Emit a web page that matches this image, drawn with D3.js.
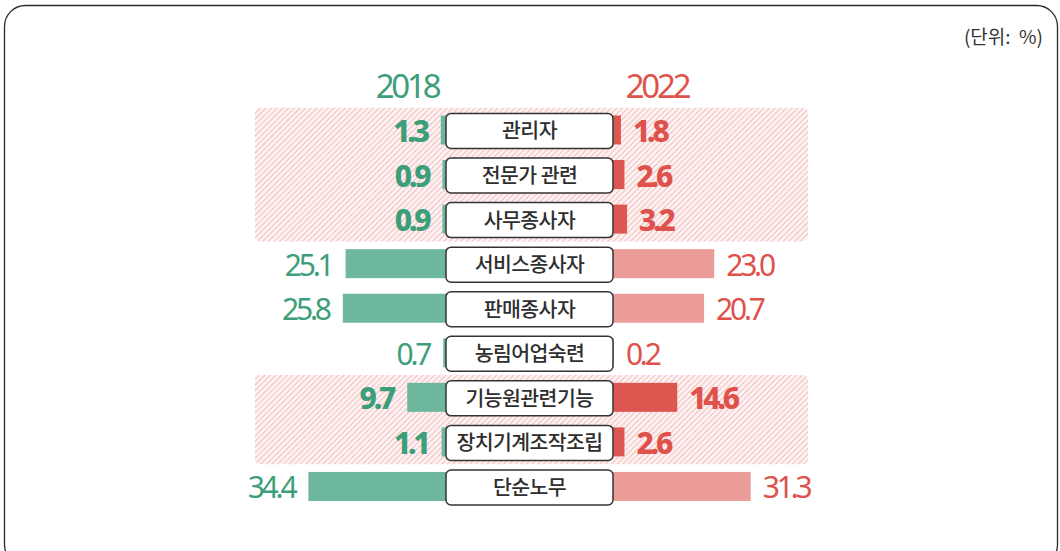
<!DOCTYPE html>
<html>
<head>
<meta charset="utf-8">
<script src="https://cdn.jsdelivr.net/npm/d3@7"></script>
<style>
  html, body { margin: 0; padding: 0; background: #fff; }
  svg { display: block; }
  .num { font-family: "Noto Sans", sans-serif; }
  .kr { font-family: "Noto Sans CJK KR", "Noto Sans", sans-serif; }
  .unit { white-space: pre; }
</style>
</head>
<body>
<div id="chart"></div>
<script>
const categories = ["관리자", "전문가 관련", "사무종사자", "서비스종사자", "판매종사자", "농림어업숙련", "기능원관련기능", "장치기계조작조립", "단순노무"];
const values2018 = [1.3, 0.9, 0.9, 25.1, 25.8, 0.7, 9.7, 1.1, 34.4];
const values2022 = [1.8, 2.6, 3.2, 23.0, 20.7, 0.2, 14.6, 2.6, 31.3];
// rows that sit on the hatched background (first, last index)
const highlightGroups = [[0, 2], [6, 7]];
const years = ["2018", "2022"];
const unitLabel = "(단위:  %)";

const width = 1060, height = 551;
const boxLeft = 446, boxRight = 613;

const colors = {
    green: "#6db89c",
    greenText: "#3d9e7a",
    red: "#de5650",
    redLight: "#eb9c98",
    redText: "#df524c"
};

const isHi = i => highlightGroups.some(g => i >= g[0] && i <= g[1]);

const svg = d3.select("#chart").append("svg")
    .attr("width", width)
    .attr("height", height);

const defs = svg.append("defs");
const pat = defs.append("pattern")
    .attr("id", "hatch")
    .attr("patternUnits", "userSpaceOnUse")
    .attr("width", 4)
    .attr("height", 4)
    .attr("patternTransform", "rotate(45)");
pat.append("rect").attr("width", 4).attr("height", 4).attr("fill", "#fdf1f1");
pat.append("line")
    .attr("x1", 0).attr("y1", 0).attr("x2", 0).attr("y2", 4)
    .attr("stroke", "#efb6b6").attr("stroke-width", 1.7);

// outer frame
svg.append("rect")
    .attr("x", 4.5).attr("y", 5.5)
    .attr("width", 1053).attr("height", 560)
    .attr("rx", 21)
    .attr("fill", "none")
    .attr("stroke", "#2a2a2a")
    .attr("stroke-width", 1.3);

const y = d3.scaleBand()
    .domain(categories)
    .range([108.7, 108.7 + 44.56 * categories.length])
    .paddingInner(0).paddingOuter(0);

// the picture uses slightly different px/unit on each side
const xLeft = d3.scaleLinear().domain([0, 40]).range([0, 160]);
const xRight = d3.scaleLinear().domain([0, 40]).range([0, 176]);

// hatched backgrounds
svg.selectAll(".hatch")
    .data(highlightGroups)
    .enter().append("rect")
    .attr("class", "hatch")
    .attr("x", 255)
    .attr("width", 553)
    .attr("y", g => y(categories[g[0]]) - 1)
    .attr("height", g => y(categories[g[1]]) + y.bandwidth() - y(categories[g[0]]))
    .attr("rx", 5)
    .attr("fill", "url(#hatch)");

const rows = svg.selectAll(".row")
    .data(categories)
    .enter().append("g")
    .attr("class", "row")
    .attr("transform", d => `translate(0,${y(d) + y.bandwidth() / 2})`);

const barH = 29;

// 2018 bars (left)
rows.append("rect")
    .attr("x", (d, i) => boxLeft - xLeft(values2018[i]))
    .attr("y", -barH / 2 - 1)
    .attr("width", (d, i) => xLeft(values2018[i]))
    .attr("height", barH)
    .attr("fill", colors.green);

// 2022 bars (right)
rows.append("rect")
    .attr("x", boxRight)
    .attr("y", -barH / 2 - 1)
    .attr("width", (d, i) => xRight(values2022[i]))
    .attr("height", barH)
    .attr("fill", (d, i) => isHi(i) ? colors.red : colors.redLight);

// category boxes
rows.append("rect")
    .attr("x", boxLeft)
    .attr("y", -17.5)
    .attr("width", boxRight - boxLeft)
    .attr("height", 35)
    .attr("rx", 5)
    .attr("fill", "#fff")
    .attr("stroke", "#333")
    .attr("stroke-width", 1.5);

rows.append("text")
    .attr("class", "kr")
    .attr("x", (boxLeft + boxRight) / 2)
    .attr("y", 7.5)
    .attr("text-anchor", "middle")
    .attr("font-size", 20.5)
    .attr("font-weight", 500)
    .attr("letter-spacing", -0.6)
    .attr("fill", "#2e2e2e")
    .text(d => d);

// value labels
rows.append("text")
    .attr("class", "num")
    .attr("x", (d, i) => boxLeft - xLeft(values2018[i]) - 14)
    .attr("y", 11)
    .attr("text-anchor", "end")
    .attr("font-size", 30)
    .attr("letter-spacing", -3.2)
    .attr("font-weight", (d, i) => isHi(i) ? 800 : 400)
    .attr("fill", colors.greenText)
    .text((d, i) => values2018[i].toFixed(1));

rows.append("text")
    .attr("class", "num")
    .attr("x", (d, i) => boxRight + xRight(values2022[i]) + 12)
    .attr("y", 11)
    .attr("text-anchor", "start")
    .attr("font-size", 30)
    .attr("letter-spacing", -3.2)
    .attr("font-weight", (d, i) => isHi(i) ? 800 : 400)
    .attr("fill", colors.redText)
    .text((d, i) => values2022[i].toFixed(1));

// year headers
svg.selectAll(".year")
    .data(years)
    .enter().append("text")
    .attr("class", "num year")
    .attr("x", (d, i) => i === 0 ? 407 : 657)
    .attr("y", 98)
    .attr("text-anchor", "middle")
    .attr("font-size", 33)
    .attr("letter-spacing", -3.2)
    .attr("fill", (d, i) => i === 0 ? colors.greenText : colors.redText)
    .text(d => d);

svg.append("text")
    .attr("class", "kr unit")
    .attr("x", 1043)
    .attr("y", 44)
    .attr("text-anchor", "end")
    .attr("font-size", 19)
    .attr("fill", "#333")
    .text(unitLabel);
</script>
</body>
</html>
